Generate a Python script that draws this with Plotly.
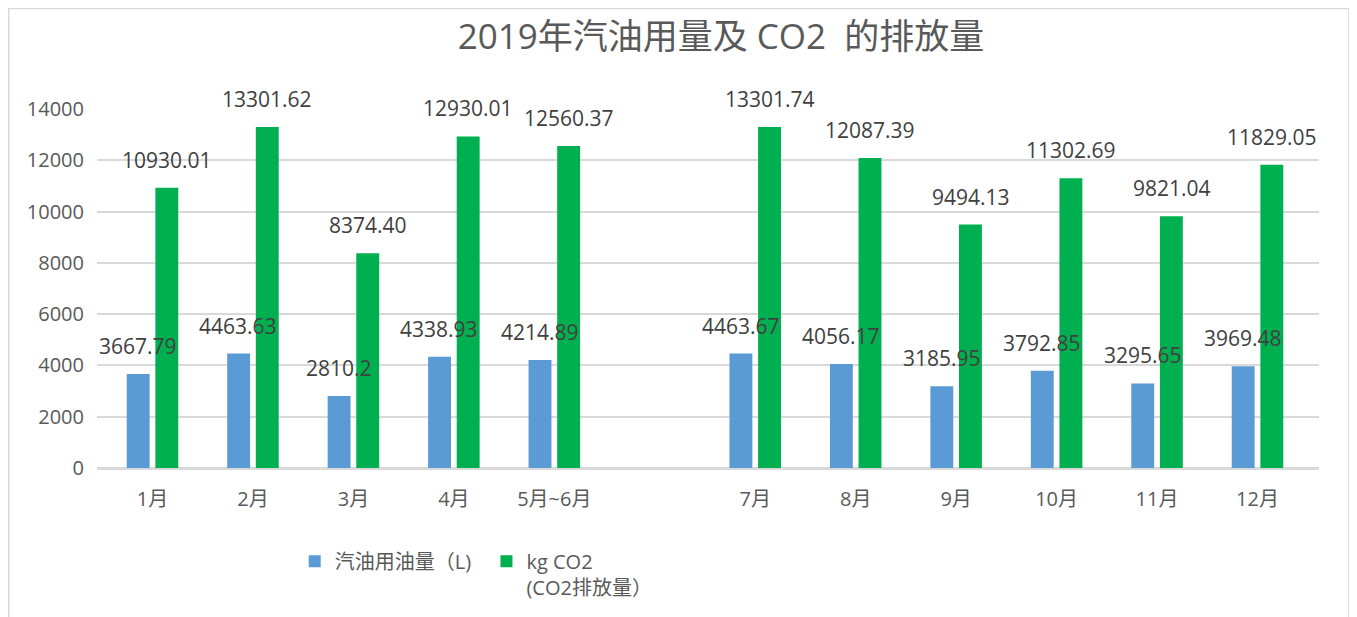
import plotly.graph_objects as go

months = ["1月", "2月", "3月", "4月", "5月~6月", " ", "7月", "8月", "9月", "10月", "11月", "12月"]
fuel_l = [3667.79, 4463.63, 2810.2, 4338.93, 4214.89, None, 4463.67, 4056.17, 3185.95, 3792.85, 3295.65, 3969.48]
co2_kg = [10930.01, 13301.62, 8374.40, 12930.01, 12560.37, None, 13301.74, 12087.39, 9494.13, 11302.69, 9821.04, 11829.05]
fuel_labels = ["3667.79", "4463.63", "2810.2", "4338.93", "4214.89", None, "4463.67", "4056.17", "3185.95", "3792.85", "3295.65", "3969.48"]
co2_labels = ["10930.01", "13301.62", "8374.40", "12930.01", "12560.37", None, "13301.74", "12087.39", "9494.13", "11302.69", "9821.04", "11829.05"]
y_ticks = [0, 2000, 4000, 6000, 8000, 10000, 12000, 14000]
y_tick_text = ["0", "2000", "4000", "6000", "8000", "10000", "12000", "14000"]

FONT = "Open Sans, Noto Sans CJK SC, sans-serif"
TXT = "#595959"
LBL = "#404040"
GRID = "#d9d9d9"

W, H = 1349, 609  # page body has an 8px margin

fig = go.Figure()
fig.add_trace(go.Bar(x=months, y=fuel_l, name="汽油用油量（L)\u00a0\u00a0", marker=dict(color="#5b9bd5", line=dict(width=0))))
fig.add_trace(go.Bar(x=months, y=co2_kg, name="kg CO2<br>(CO2排放量）", marker=dict(color="#00b050", line=dict(width=0))))

annotations = []
for m, v, t in zip(months, fuel_l, fuel_labels):
    if v is None:
        continue
    annotations.append(dict(x=m, y=v, xref="x", yref="y", text=t, showarrow=False,
                            xshift=-14.5, yshift=28, yanchor="middle", xanchor="center",
                            font=dict(family=FONT, size=21, color=LBL)))
for m, v, t in zip(months, co2_kg, co2_labels):
    if v is None:
        continue
    annotations.append(dict(x=m, y=v, xref="x", yref="y", text=t, showarrow=False,
                            xshift=14.5, yshift=28, yanchor="middle", xanchor="center",
                            font=dict(family=FONT, size=21, color=LBL)))

fig.update_layout(
    width=W, height=H,
    margin=dict(l=89, r=38, t=101, b=149, autoexpand=False),
    paper_bgcolor="white", plot_bgcolor="white",
    barmode="group", bargap=0.43, bargroupgap=0.2,
    font=dict(family=FONT, color=TXT),
    title=dict(text="2019年汽油用量及 CO2  的排放量", x=713 / W, xref="container", xanchor="center",
               y=1 - 29 / H, yref="container", yanchor="middle",
               font=dict(family=FONT, size=35, color=TXT)),
    xaxis=dict(type="category", categoryorder="array", categoryarray=months,
               showgrid=False, showline=True, linecolor=GRID, linewidth=1.5,
               ticks="", ticklabelstandoff=12, tickfont=dict(family=FONT, size=20, color=TXT)),
    yaxis=dict(range=[0, 14000], tickvals=y_ticks, ticktext=y_tick_text, showgrid=True, gridcolor=GRID, gridwidth=1.5,
               zeroline=True, zerolinecolor=GRID, zerolinewidth=1.5, showline=False, ticks="",
               ticklabelstandoff=12, tickfont=dict(family=FONT, size=20, color=TXT)),
    showlegend=True,
    legend=dict(orientation="h", x=0.1618, xanchor="left", y=-0.2055, yanchor="top", valign="top",
                font=dict(family=FONT, size=20, color=TXT), itemwidth=30, tracegroupgap=0,
                bgcolor="rgba(0,0,0,0)"),
    annotations=annotations,
    shapes=[dict(type="rect", xref="paper", yref="paper", x0=-0.0722, x1=1.0245, y0=-0.45, y1=1.2799,
                 line=dict(color=GRID, width=1.5), fillcolor="rgba(0,0,0,0)", layer="below")],
)

fig.write_html("out.html")
